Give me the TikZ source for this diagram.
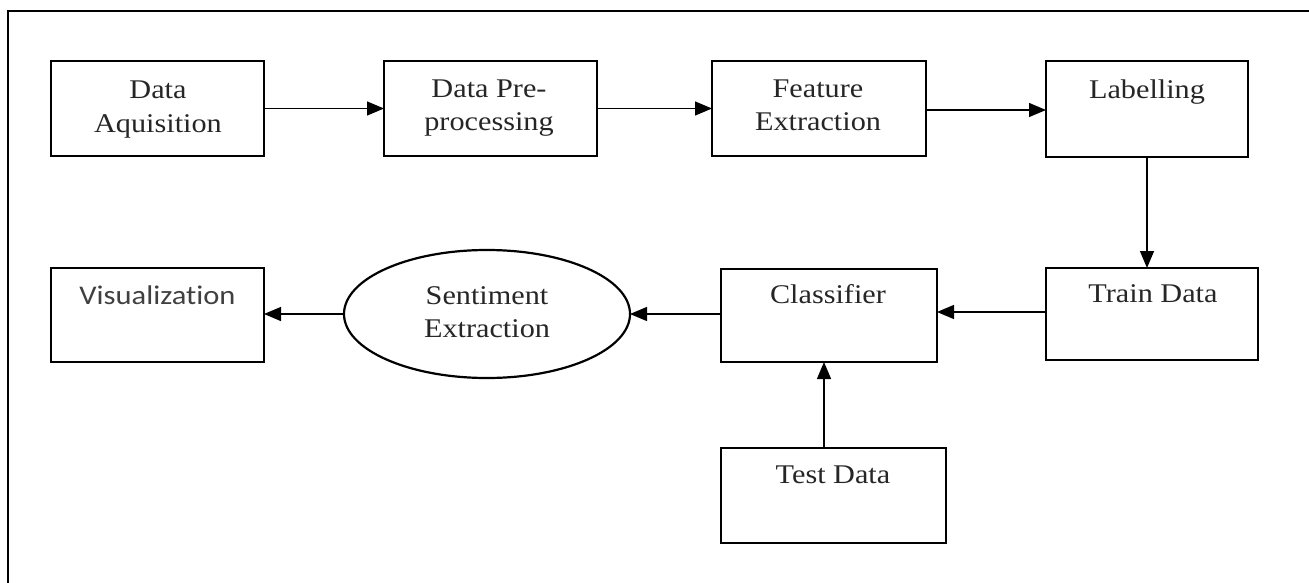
\documentclass[tikz,border=0pt]{standalone}
\usepackage{fontspec}
\setmainfont[FakeStretch=1.12]{Liberation Serif}
\newfontfamily\visfont[FakeStretch=1.13,Ligatures=NoCommon]{Carlito}
\usetikzlibrary{shapes.geometric,arrows.meta}
\tikzset{
  stepbox/.style={draw, line width=2.6pt, rectangle, inner sep=0pt, outer sep=0pt},
  oval/.style={draw, line width=2.2pt, ellipse, inner sep=0pt, outer sep=0pt},
  lbl/.style={anchor=base, inner sep=0pt, font=\fontsize{27}{33}\selectfont, text=black!85, align=center},
  conn/.style={line width=1.3pt, -{Triangle[length=17pt,width=14pt]}},
}
\begin{document}
\begin{tikzpicture}[x=1pt,y=-1pt]
\useasboundingbox (0,0) rectangle (1309,583);
\fill[white] (0,0) rectangle (1309,583);
% frame (top and left only)
\draw[line width=2pt] (8,583) -- (8,11) -- (1309,11);
% boxes
\node[stepbox, minimum width=213pt, minimum height=95pt] (da)  at (157.5,108.5) {};
\node[stepbox, minimum width=213pt, minimum height=95pt] (dp)  at (490.5,108.5) {};
\node[stepbox, minimum width=214pt, minimum height=95pt] (fe)  at (819,108.5) {};
\node[stepbox, minimum width=202pt, minimum height=96pt] (lab) at (1147,109) {};
\node[stepbox, minimum width=212pt, minimum height=92pt] (tr)  at (1152,314) {};
\node[stepbox, minimum width=216pt, minimum height=93pt] (cl)  at (829,315.5) {};
\node[oval, minimum width=286pt, minimum height=128pt] (se) at (487,314) {};
\node[stepbox, minimum width=213pt, minimum height=94pt] (vis) at (157.5,315) {};
\node[stepbox, minimum width=225pt, minimum height=95pt] (te)  at (833.5,495.5) {};
% labels (multi-line: anchor base = last line)
\node[lbl] (tda) at (158,132) {Data\\Aquisition};
\node[lbl] (tdp) at (489,131) {Data Pre-\\processing};
\node[lbl] (tfe) at (818,131) {Feature\\Extraction};
\node[lbl] (tlab) at (1147,99) {Labelling};
\node[lbl] (ttr) at (1153,302) {Train Data};
\node[lbl] (tcl) at (828,303) {Classifier};
\node[lbl] (tse) at (487,337) {Sentiment\\Extraction};
\node[lbl, font=\visfont\fontsize{27}{32}\selectfont, text=black!75] (tvis) at (157.5,304) {Visualization};
\node[lbl] (tte) at (833,483) {Test Data};
% connectors
\draw[conn] (da.east) -- (dp.west);
\draw[conn] (dp.east) -- (fe.west);
\draw[conn] ([yshift=-1.5pt]fe.east) -- ([yshift=-1.5pt]fe.east -| lab.west);
\draw[conn] (lab.south) -- (lab.south |- tr.north);
\draw[conn] ([yshift=2pt]tr.west) -- ([yshift=2pt]tr.west -| cl.east);
\draw[conn] (cl.west |- se.east) -- (se.east);
\draw[conn] (se.west) -- (se.west -| vis.east);
\draw[conn] ([xshift=-9.5pt]te.north) -- ([xshift=-9.5pt]te.north |- cl.south);
\end{tikzpicture}
\end{document}
